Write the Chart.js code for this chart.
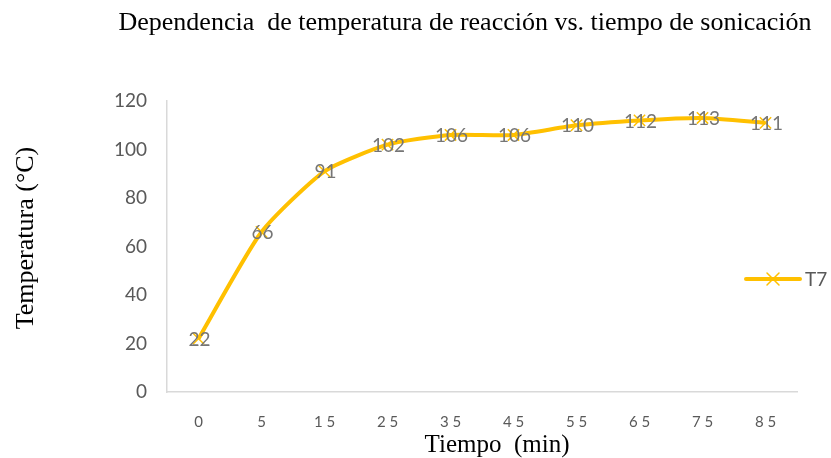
<!DOCTYPE html>
<html><head><meta charset="utf-8">
<script src="https://cdn.jsdelivr.net/npm/chart.js@4/dist/chart.umd.min.js"></script>
<style>html,body{margin:0;padding:0;background:#fff}#wrap{width:831px;height:458px}</style>
</head><body><div id="wrap"><canvas id="c" width="831" height="458"></canvas></div>
<script>
const categories = ['0','5','15','25','35','45','55','65','75','85'];
const temperaturaT7 = [22,66,91,102,106,106,110,112,113,111];
const seriesName = 'T7';
const titleText = 'Dependencia  de temperatura de reacción vs. tiempo de sonicación';
const xTitle = 'Tiempo  (min)';
const yTitle = 'Temperatura (°C)';
const yMin = 0, yMax = 120, yStep = 20;

const lineColor = '#FFC000';
const labelColor = '#767676';

const dataLabels = {
  id: 'dataLabels',
  afterDatasetsDraw(chart) {
    const ctx = chart.ctx;
    const meta = chart.getDatasetMeta(0);
    ctx.save();
    ctx.font = '19px Lato';
    ctx.fillStyle = labelColor;
    ctx.textAlign = 'center';
    ctx.textBaseline = 'middle';
    meta.data.forEach((pt, i) => {
      ctx.fillText(String(chart.data.datasets[0].data[i]), pt.x + 1, pt.y + 1);
    });
    ctx.restore();
  }
};

const textsAndLegend = {
  id: 'textsAndLegend',
  afterDraw(chart) {
    const ctx = chart.ctx;
    const ds = chart.data.datasets[0];
    ctx.save();
    ctx.fillStyle = '#000';
    ctx.font = '26px "Liberation Serif"';
    ctx.textAlign = 'center';
    ctx.textBaseline = 'middle';
    ctx.fillText(titleText, 465, 23);
    ctx.font = '25px "Liberation Serif"';
    ctx.fillText(xTitle, 497, 445);
    ctx.save();
    ctx.translate(26, 238);
    ctx.rotate(-Math.PI / 2);
    ctx.font = '26px "Liberation Serif"';
    ctx.fillText(yTitle, 0, 0);
    ctx.restore();
    const y = 279, x0 = 746, x1 = 800;
    ctx.strokeStyle = ds.borderColor;
    ctx.lineWidth = ds.borderWidth;
    ctx.lineCap = 'round';
    ctx.beginPath(); ctx.moveTo(x0, y); ctx.lineTo(x1, y); ctx.stroke();
    const cx = (x0 + x1) / 2, r = 6;
    ctx.lineWidth = 1.5;
    ctx.beginPath();
    ctx.moveTo(cx - r, y - r); ctx.lineTo(cx + r, y + r);
    ctx.moveTo(cx - r, y + r); ctx.lineTo(cx + r, y - r);
    ctx.stroke();
    ctx.font = '19px Lato';
    ctx.fillStyle = '#595959';
    ctx.textAlign = 'left';
    ctx.fillText(ds.label, 805, y + 1);
    ctx.restore();
  }
};

new Chart(document.getElementById('c'), {
  type: 'line',
  data: {
    labels: categories,
    datasets: [{
      label: seriesName,
      data: temperaturaT7,
      borderColor: lineColor,
      backgroundColor: lineColor,
      borderWidth: 4,
      tension: 0.2,
      pointStyle: 'crossRot',
      pointRadius: 8,
      pointBorderWidth: 1.5,
      pointBorderColor: lineColor,
      fill: false
    }]
  },
  options: {
    responsive: false,
    animation: false,
    devicePixelRatio: 1,
    layout: { padding: { left: 0, right: 34, top: 101, bottom: 0 } },
    plugins: {
      legend: { display: false },
      tooltip: { enabled: false },
      title: { display: false }
    },
    scales: {
      x: {
        offset: true,
        grid: { display: false, drawTicks: false, offset: true },
        border: { display: true, color: '#d9d9d9', width: 1.5 },
        ticks: {
          color: '#595959',
          font: { family: 'Lato', size: 15 },
          padding: 21,
          maxRotation: 0,
          callback: function(v) { return this.getLabelForValue(v).split('').join(' '); }
        },
        afterFit(scale) { scale.height = 66; }
      },
      y: {
        min: yMin, max: yMax,
        grid: { display: false, drawTicks: false },
        border: { display: true, color: '#d9d9d9', width: 1.5 },
        ticks: {
          stepSize: yStep,
          color: '#595959',
          font: { family: 'Lato', size: 19 },
          padding: 20
        },
        afterFit(scale) { scale.width = 167; }
      }
    }
  },
  plugins: [dataLabels, textsAndLegend]
});
</script>
</body></html>
